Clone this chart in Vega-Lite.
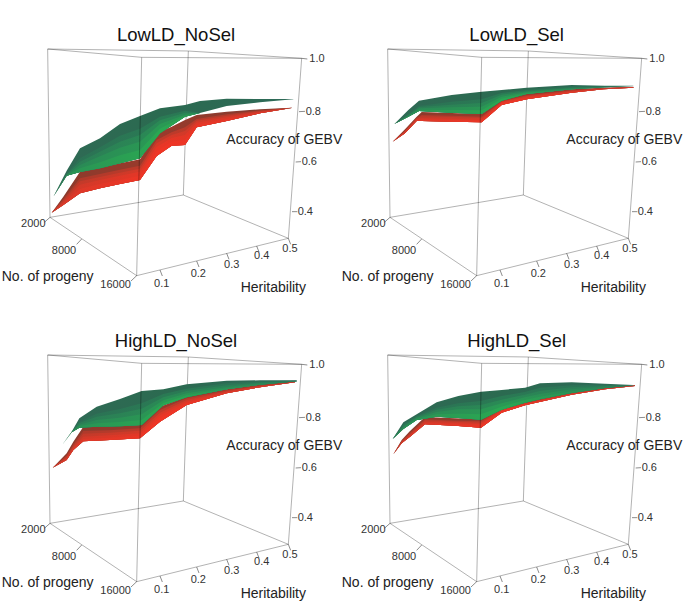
{"$schema":"https://vega.github.io/schema/vega-lite/v6.json","padding":0,"bounds":"flush","background":"white","config":{"view":{"stroke":null}},
"datasets":{
"surfaces":[
{"panel":"LowLD_NoSel","surface":"title","sx":528,"sy":105,"label":"LowLD_NoSel"},
{"panel":"LowLD_Sel","surface":"title","sx":530,"sy":105,"label":"LowLD_Sel"},
{"panel":"HighLD_NoSel","surface":"title","sx":528,"sy":105,"label":"HighLD_NoSel"},
{"panel":"HighLD_Sel","surface":"title","sx":530,"sy":105,"label":"HighLD_Sel"},
{"panel":"LowLD_NoSel","surface":"green","sx":160,"top":590,"m1":590,"mb":590,"m2":590,"mc":590,"bot":590},
{"panel":"LowLD_NoSel","surface":"green","sx":200,"top":512,"m1":522,"mb":523,"m2":525,"mc":526,"bot":527},
{"panel":"LowLD_NoSel","surface":"green","sx":240,"top":445,"m1":475,"mb":485,"m2":495,"mc":505,"bot":516},
{"panel":"LowLD_NoSel","surface":"green","sx":300,"top":415,"m1":442,"mb":455,"m2":469,"mc":487,"bot":505},
{"panel":"LowLD_NoSel","surface":"green","sx":360,"top":372,"m1":407,"mb":425,"m2":443,"mc":466,"bot":490},
{"panel":"LowLD_NoSel","surface":"green","sx":420,"top":348,"m1":386,"mb":405,"m2":425,"mc":450,"bot":475},
{"panel":"LowLD_NoSel","surface":"green","sx":480,"top":325,"m1":350,"mb":361,"m2":372,"mc":386,"bot":400},
{"panel":"LowLD_NoSel","surface":"green","sx":555,"top":315,"m1":332,"mb":338,"m2":344,"mc":347,"bot":350},
{"panel":"LowLD_NoSel","surface":"green","sx":600,"top":303,"m1":339,"mb":339,"m2":339,"mc":339,"bot":339},
{"panel":"LowLD_NoSel","surface":"green","sx":680,"top":296,"m1":318,"mb":318,"m2":318,"mc":318,"bot":318},
{"panel":"LowLD_NoSel","surface":"green","sx":780,"top":297,"m1":307,"mb":307,"m2":307,"mc":307,"bot":307},
{"panel":"LowLD_NoSel","surface":"green","sx":880,"top":297,"m1":298,"mb":298,"m2":298,"mc":298,"bot":298},
{"panel":"LowLD_NoSel","surface":"red","sx":155,"top":638,"m1":638,"mb":638,"m2":638,"mc":638,"bot":638},
{"panel":"LowLD_NoSel","surface":"red","sx":190,"top":590,"m1":597,"mb":601,"m2":605,"mc":610,"bot":615},
{"panel":"LowLD_NoSel","surface":"red","sx":240,"top":515,"m1":535,"mb":544,"m2":554,"mc":567,"bot":580},
{"panel":"LowLD_NoSel","surface":"red","sx":300,"top":503,"m1":522,"mb":531,"m2":540,"mc":552,"bot":565},
{"panel":"LowLD_NoSel","surface":"red","sx":360,"top":490,"m1":509,"mb":518,"m2":527,"mc":540,"bot":552},
{"panel":"LowLD_NoSel","surface":"red","sx":420,"top":478,"m1":497,"mb":506,"m2":515,"mc":527,"bot":540},
{"panel":"LowLD_NoSel","surface":"red","sx":470,"top":400,"m1":420,"mb":430,"m2":441,"mc":454,"bot":468},
{"panel":"LowLD_NoSel","surface":"red","sx":515,"top":380,"m1":397,"mb":405,"m2":414,"mc":425,"bot":437},
{"panel":"LowLD_NoSel","surface":"red","sx":555,"top":360,"m1":382,"mb":393,"m2":405,"mc":420,"bot":435},
{"panel":"LowLD_NoSel","surface":"red","sx":590,"top":345,"m1":357,"mb":362,"m2":368,"mc":375,"bot":382},
{"panel":"LowLD_NoSel","surface":"red","sx":680,"top":335,"m1":343,"mb":347,"m2":352,"mc":357,"bot":363},
{"panel":"LowLD_NoSel","surface":"red","sx":780,"top":328,"m1":331,"mb":333,"m2":335,"mc":337,"bot":340},
{"panel":"LowLD_NoSel","surface":"red","sx":875,"top":323,"m1":323,"mb":323,"m2":324,"mc":324,"bot":324},
{"panel":"LowLD_Sel","surface":"green","sx":163,"top":372,"m1":372,"mb":372,"m2":372,"mc":372,"bot":372},
{"panel":"LowLD_Sel","surface":"green","sx":205,"top":330,"m1":342,"mb":344,"m2":347,"mc":348,"bot":350},
{"panel":"LowLD_Sel","surface":"green","sx":237,"top":302,"m1":318,"mb":321,"m2":325,"mc":329,"bot":333},
{"panel":"LowLD_Sel","surface":"green","sx":335,"top":285,"m1":305,"mb":314,"m2":322,"mc":330,"bot":338},
{"panel":"LowLD_Sel","surface":"green","sx":425,"top":275,"m1":298,"mb":309,"m2":320,"mc":331,"bot":342},
{"panel":"LowLD_Sel","surface":"green","sx":485,"top":270,"m1":279,"mb":284,"m2":290,"mc":296,"bot":302},
{"panel":"LowLD_Sel","surface":"green","sx":560,"top":263,"m1":270,"mb":274,"m2":277,"mc":280,"bot":282},
{"panel":"LowLD_Sel","surface":"green","sx":695,"top":255,"m1":260,"mb":263,"m2":265,"mc":267,"bot":268},
{"panel":"LowLD_Sel","surface":"green","sx":795,"top":257,"m1":259,"mb":260,"m2":261,"mc":262,"bot":262},
{"panel":"LowLD_Sel","surface":"green","sx":880,"top":257,"m1":258,"mb":258,"m2":258,"mc":258,"bot":258},
{"panel":"LowLD_Sel","surface":"red","sx":158,"top":425,"m1":425,"mb":425,"m2":425,"mc":425,"bot":425},
{"panel":"LowLD_Sel","surface":"red","sx":195,"top":388,"m1":391,"mb":393,"m2":395,"mc":397,"bot":400},
{"panel":"LowLD_Sel","surface":"red","sx":230,"top":350,"m1":353,"mb":355,"m2":358,"mc":360,"bot":363},
{"panel":"LowLD_Sel","surface":"red","sx":245,"top":336,"m1":345,"mb":349,"m2":354,"mc":358,"bot":363},
{"panel":"LowLD_Sel","surface":"red","sx":335,"top":339,"m1":347,"mb":351,"m2":356,"mc":360,"bot":365},
{"panel":"LowLD_Sel","surface":"red","sx":425,"top":342,"m1":350,"mb":354,"m2":359,"mc":363,"bot":367},
{"panel":"LowLD_Sel","surface":"red","sx":485,"top":300,"m1":304,"mb":306,"m2":308,"mc":311,"bot":315},
{"panel":"LowLD_Sel","surface":"red","sx":560,"top":281,"m1":286,"mb":289,"m2":292,"mc":295,"bot":298},
{"panel":"LowLD_Sel","surface":"red","sx":695,"top":268,"m1":270,"mb":272,"m2":274,"mc":276,"bot":278},
{"panel":"LowLD_Sel","surface":"red","sx":790,"top":263,"m1":264,"mb":265,"m2":266,"mc":267,"bot":268},
{"panel":"LowLD_Sel","surface":"red","sx":880,"top":260,"m1":261,"mb":261,"m2":261,"mc":262,"bot":263},
{"panel":"HighLD_NoSel","surface":"green","sx":188,"top":415,"m1":415,"mb":415,"m2":415,"mc":415,"bot":415},
{"panel":"HighLD_NoSel","surface":"green","sx":215,"top":377,"m1":378,"mb":378,"m2":378,"mc":378,"bot":379},
{"panel":"HighLD_NoSel","surface":"green","sx":238,"top":337,"m1":347,"mb":351,"m2":356,"mc":360,"bot":365},
{"panel":"HighLD_NoSel","surface":"green","sx":290,"top":302,"m1":323,"mb":332,"m2":342,"mc":352,"bot":362},
{"panel":"HighLD_NoSel","surface":"green","sx":360,"top":279,"m1":309,"mb":322,"m2":335,"mc":348,"bot":361},
{"panel":"HighLD_NoSel","surface":"green","sx":425,"top":255,"m1":292,"mb":308,"m2":325,"mc":342,"bot":357},
{"panel":"HighLD_NoSel","surface":"green","sx":490,"top":250,"m1":264,"mb":274,"m2":283,"mc":291,"bot":298},
{"panel":"HighLD_NoSel","surface":"green","sx":560,"top":235,"m1":248,"mb":255,"m2":262,"mc":268,"bot":274},
{"panel":"HighLD_NoSel","surface":"green","sx":680,"top":224,"m1":232,"mb":238,"m2":243,"mc":247,"bot":250},
{"panel":"HighLD_NoSel","surface":"green","sx":780,"top":223,"m1":226,"mb":229,"m2":231,"mc":234,"bot":236},
{"panel":"HighLD_NoSel","surface":"green","sx":890,"top":223,"m1":224,"mb":224,"m2":225,"mc":225,"bot":226},
{"panel":"HighLD_NoSel","surface":"red","sx":158,"top":485,"m1":485,"mb":485,"m2":485,"mc":485,"bot":485},
{"panel":"HighLD_NoSel","surface":"red","sx":200,"top":442,"m1":448,"mb":451,"m2":455,"mc":458,"bot":462},
{"panel":"HighLD_NoSel","surface":"red","sx":220,"top":407,"m1":415,"mb":419,"m2":423,"mc":427,"bot":432},
{"panel":"HighLD_NoSel","surface":"red","sx":250,"top":362,"m1":375,"mb":383,"m2":392,"mc":399,"bot":406},
{"panel":"HighLD_NoSel","surface":"red","sx":330,"top":361,"m1":373,"mb":380,"m2":388,"mc":395,"bot":402},
{"panel":"HighLD_NoSel","surface":"red","sx":420,"top":357,"m1":367,"mb":374,"m2":382,"mc":389,"bot":397},
{"panel":"HighLD_NoSel","surface":"red","sx":480,"top":302,"m1":312,"mb":320,"m2":328,"mc":337,"bot":347},
{"panel":"HighLD_NoSel","surface":"red","sx":560,"top":272,"m1":277,"mb":282,"m2":287,"mc":292,"bot":297},
{"panel":"HighLD_NoSel","surface":"red","sx":680,"top":250,"m1":252,"mb":255,"m2":257,"mc":260,"bot":262},
{"panel":"HighLD_NoSel","surface":"red","sx":790,"top":235,"m1":236,"mb":238,"m2":239,"mc":241,"bot":242},
{"panel":"HighLD_NoSel","surface":"red","sx":885,"top":225,"m1":226,"mb":227,"m2":228,"mc":228,"bot":229},
{"panel":"HighLD_Sel","surface":"green","sx":158,"top":399,"m1":399,"mb":399,"m2":399,"mc":399,"bot":399},
{"panel":"HighLD_Sel","surface":"green","sx":190,"top":349,"m1":355,"mb":358,"m2":362,"mc":365,"bot":369},
{"panel":"HighLD_Sel","surface":"green","sx":230,"top":325,"m1":330,"mb":332,"m2":335,"mc":338,"bot":342},
{"panel":"HighLD_Sel","surface":"green","sx":290,"top":289,"m1":305,"mb":311,"m2":318,"mc":325,"bot":332},
{"panel":"HighLD_Sel","surface":"green","sx":355,"top":270,"m1":292,"mb":301,"m2":310,"mc":323,"bot":336},
{"panel":"HighLD_Sel","surface":"green","sx":423,"top":257,"m1":285,"mb":297,"m2":310,"mc":325,"bot":341},
{"panel":"HighLD_Sel","surface":"green","sx":485,"top":252,"m1":270,"mb":281,"m2":292,"mc":302,"bot":311},
{"panel":"HighLD_Sel","surface":"green","sx":555,"top":245,"m1":258,"mb":266,"m2":274,"mc":282,"bot":290},
{"panel":"HighLD_Sel","surface":"green","sx":600,"top":232,"m1":245,"mb":255,"m2":264,"mc":272,"bot":280},
{"panel":"HighLD_Sel","surface":"green","sx":695,"top":229,"m1":238,"mb":244,"m2":250,"mc":256,"bot":261},
{"panel":"HighLD_Sel","surface":"green","sx":795,"top":233,"m1":236,"mb":239,"m2":241,"mc":244,"bot":246},
{"panel":"HighLD_Sel","surface":"green","sx":880,"top":237,"m1":238,"mb":238,"m2":238,"mc":238,"bot":238},
{"panel":"HighLD_Sel","surface":"red","sx":160,"top":445,"m1":445,"mb":445,"m2":445,"mc":445,"bot":445},
{"panel":"HighLD_Sel","surface":"red","sx":185,"top":402,"m1":405,"mb":406,"m2":408,"mc":410,"bot":412},
{"panel":"HighLD_Sel","surface":"red","sx":210,"top":375,"m1":380,"mb":383,"m2":386,"mc":389,"bot":392},
{"panel":"HighLD_Sel","surface":"red","sx":255,"top":333,"m1":340,"mb":343,"m2":347,"mc":351,"bot":355},
{"panel":"HighLD_Sel","surface":"red","sx":345,"top":337,"m1":344,"mb":347,"m2":351,"mc":355,"bot":359},
{"panel":"HighLD_Sel","surface":"red","sx":423,"top":340,"m1":346,"mb":350,"m2":355,"mc":360,"bot":365},
{"panel":"HighLD_Sel","surface":"red","sx":485,"top":306,"m1":309,"mb":312,"m2":314,"mc":317,"bot":320},
{"panel":"HighLD_Sel","surface":"red","sx":555,"top":288,"m1":290,"mb":292,"m2":294,"mc":296,"bot":298},
{"panel":"HighLD_Sel","surface":"red","sx":695,"top":260,"m1":261,"mb":262,"m2":263,"mc":265,"bot":266},
{"panel":"HighLD_Sel","surface":"red","sx":795,"top":245,"m1":246,"mb":247,"m2":248,"mc":249,"bot":250},
{"panel":"HighLD_Sel","surface":"red","sx":885,"top":238,"m1":238,"mb":239,"m2":239,"mc":239,"bot":240}
],
"box":[
{"seg":"b1","part":"back","sx":565,"sy":153},{"seg":"b1","part":"back","sx":550,"sy":585},
{"seg":"b2","part":"back","sx":550,"sy":585},{"seg":"b2","part":"back","sx":150,"sy":652},
{"seg":"b3","part":"back","sx":550,"sy":585},{"seg":"b3","part":"back","sx":865,"sy":715},
{"seg":"b4","part":"back","sx":143,"sy":147},{"seg":"b4","part":"back","sx":565,"sy":153},
{"seg":"b5","part":"back","sx":565,"sy":153},{"seg":"b5","part":"back","sx":905,"sy":175},
{"seg":"f1","part":"front","sx":143,"sy":147},{"seg":"f1","part":"front","sx":150,"sy":652},
{"seg":"f2","part":"front","sx":425,"sy":172},{"seg":"f2","part":"front","sx":410,"sy":827},
{"seg":"f3","part":"front","sx":905,"sy":175},{"seg":"f3","part":"front","sx":865,"sy":715},
{"seg":"f4","part":"front","sx":150,"sy":652},{"seg":"f4","part":"front","sx":410,"sy":827},
{"seg":"f5","part":"front","sx":410,"sy":827},{"seg":"f5","part":"front","sx":865,"sy":715},
{"seg":"f6","part":"front","sx":143,"sy":147},{"seg":"f6","part":"front","sx":425,"sy":172},
{"seg":"f7","part":"front","sx":425,"sy":172},{"seg":"f7","part":"front","sx":905,"sy":175},
{"seg":"z10","part":"tick","sx":905,"sy":175},{"seg":"z10","part":"tick","sx":922,"sy":177},
{"seg":"z08","part":"tick","sx":897,"sy":335},{"seg":"z08","part":"tick","sx":915,"sy":334},
{"seg":"z06","part":"tick","sx":887,"sy":486},{"seg":"z06","part":"tick","sx":903,"sy":485},
{"seg":"z04","part":"tick","sx":876,"sy":635},{"seg":"z04","part":"tick","sx":892,"sy":635},
{"seg":"h1","part":"tick","sx":480,"sy":810},{"seg":"h1","part":"tick","sx":487,"sy":828},
{"seg":"h2","part":"tick","sx":590,"sy":783},{"seg":"h2","part":"tick","sx":597,"sy":801},
{"seg":"h3","part":"tick","sx":680,"sy":760},{"seg":"h3","part":"tick","sx":687,"sy":778},
{"seg":"h4","part":"tick","sx":770,"sy":738},{"seg":"h4","part":"tick","sx":777,"sy":756},
{"seg":"h5","part":"tick","sx":865,"sy":715},{"seg":"h5","part":"tick","sx":872,"sy":733},
{"seg":"p1","part":"tick","sx":150,"sy":652},{"seg":"p1","part":"tick","sx":133,"sy":667},
{"seg":"p2","part":"tick","sx":245,"sy":717},{"seg":"p2","part":"tick","sx":230,"sy":733},
{"seg":"p3","part":"tick","sx":410,"sy":827},{"seg":"p3","part":"tick","sx":393,"sy":843}
],
"labels":[
{"kind":"tick","label":"2000","sx":100,"sy":671},{"kind":"tick","label":"8000","sx":192,"sy":753},{"kind":"tick","label":"16000","sx":347,"sy":855},
{"kind":"tick","label":"0.1","sx":485,"sy":853},{"kind":"tick","label":"0.2","sx":595,"sy":822},{"kind":"tick","label":"0.3","sx":695,"sy":795},{"kind":"tick","label":"0.4","sx":785,"sy":768},{"kind":"tick","label":"0.5","sx":870,"sy":747},
{"kind":"tick","label":"1.0","sx":951,"sy":177},{"kind":"tick","label":"0.8","sx":940,"sy":335},{"kind":"tick","label":"0.6","sx":928,"sy":486},{"kind":"tick","label":"0.4","sx":916,"sy":635},
{"kind":"axis","label":"No. of progeny","sx":143,"sy":830},{"kind":"axis","label":"Heritability","sx":820,"sy":863},{"kind":"axis","label":"Accuracy of GEBV","sx":853,"sy":420}
]},
"data":{"name":"surfaces"},
"transform":[{"calculate":"indexof(datum.panel,'Low')==0?'a_LowLD':'b_HighLD'","as":"ld"},{"calculate":"indexof(datum.panel,'NoSel')>=0?'a_NoSel':'b_Sel'","as":"sel"}],
"facet":{"row":{"field":"ld","type":"nominal","header":null},"column":{"field":"sel","type":"nominal","header":null}},
"spacing":{"row":1,"column":0},
"spec":{"width":340,"height":305,
"encoding":{"x":{"field":"sx","type":"quantitative","axis":null,"scale":{"domain":[0,1020],"nice":false,"zero":false}},"y":{"field":"sy","type":"quantitative","axis":null,"scale":{"domain":[915,0],"nice":false,"zero":false}}},
"layer":[
{"data":{"name":"box"},"transform":[{"filter":"datum.part=='back'"}],"mark":{"type":"line","color":"#000","opacity":0.3,"strokeWidth":1},"encoding":{"detail":{"field":"seg"}}},
{"transform":[{"filter":"datum.surface=='red'"}],"mark":{"type":"area","color":{"x1":0,"y1":0,"x2":1,"y2":0,"gradient":"linear","stops":[{"offset":0,"color":"#8a3a2c"},{"offset":0.45,"color":"#9a3a2c"},{"offset":1,"color":"#7c3c30"}]}},"encoding":{"y":{"field":"top","type":"quantitative"},"y2":{"field":"bot"}}},
{"transform":[{"filter":"datum.surface=='red'"}],"mark":{"type":"area","color":{"x1":0,"y1":0,"x2":1,"y2":0,"gradient":"linear","stops":[{"offset":0,"color":"#a83a2b"},{"offset":0.45,"color":"#c03a2a"},{"offset":1,"color":"#a03c2d"}]}},"encoding":{"y":{"field":"m1","type":"quantitative"},"y2":{"field":"bot"}}},
{"transform":[{"filter":"datum.surface=='red'"}],"mark":{"type":"area","color":{"x1":0,"y1":0,"x2":1,"y2":0,"gradient":"linear","stops":[{"offset":0,"color":"#bc3a2a"},{"offset":0.45,"color":"#d83928"},{"offset":1,"color":"#b83b2c"}]}},"encoding":{"y":{"field":"mb","type":"quantitative"},"y2":{"field":"bot"}}},
{"transform":[{"filter":"datum.surface=='red'"}],"mark":{"type":"area","color":{"x1":0,"y1":0,"x2":1,"y2":0,"gradient":"linear","stops":[{"offset":0,"color":"#cc3a2a"},{"offset":0.45,"color":"#e83626"},{"offset":1,"color":"#cc3a2a"}]}},"encoding":{"y":{"field":"m2","type":"quantitative"},"y2":{"field":"bot"}}},
{"transform":[{"filter":"datum.surface=='red'"}],"mark":{"type":"area","color":{"x1":0,"y1":0,"x2":1,"y2":0,"gradient":"linear","stops":[{"offset":0,"color":"#d83a2a"},{"offset":0.45,"color":"#f03525"},{"offset":1,"color":"#dc382a"}]}},"encoding":{"y":{"field":"mc","type":"quantitative"},"y2":{"field":"bot"}}},
{"transform":[{"filter":"datum.surface=='green'"}],"mark":{"type":"area","color":{"x1":0,"y1":0,"x2":1,"y2":0,"gradient":"linear","stops":[{"offset":0,"color":"#2f6a55"},{"offset":0.45,"color":"#2b6a50"},{"offset":1,"color":"#2e6a58"}]}},"encoding":{"y":{"field":"top","type":"quantitative"},"y2":{"field":"bot"}}},
{"transform":[{"filter":"datum.surface=='green'"}],"mark":{"type":"area","color":{"x1":0,"y1":0,"x2":1,"y2":0,"gradient":"linear","stops":[{"offset":0,"color":"#2c7055"},{"offset":0.45,"color":"#2a7a54"},{"offset":1,"color":"#2d6f58"}]}},"encoding":{"y":{"field":"m1","type":"quantitative"},"y2":{"field":"bot"}}},
{"transform":[{"filter":"datum.surface=='green'"}],"mark":{"type":"area","color":{"x1":0,"y1":0,"x2":1,"y2":0,"gradient":"linear","stops":[{"offset":0,"color":"#2c7a56"},{"offset":0.45,"color":"#2a8a55"},{"offset":1,"color":"#2c7558"}]}},"encoding":{"y":{"field":"mb","type":"quantitative"},"y2":{"field":"bot"}}},
{"transform":[{"filter":"datum.surface=='green'"}],"mark":{"type":"area","color":{"x1":0,"y1":0,"x2":1,"y2":0,"gradient":"linear","stops":[{"offset":0,"color":"#2a8556"},{"offset":0.45,"color":"#2a9a54"},{"offset":1,"color":"#2c7a58"}]}},"encoding":{"y":{"field":"m2","type":"quantitative"},"y2":{"field":"bot"}}},
{"transform":[{"filter":"datum.surface=='green'"}],"mark":{"type":"area","color":{"x1":0,"y1":0,"x2":1,"y2":0,"gradient":"linear","stops":[{"offset":0,"color":"#2a9055"},{"offset":0.45,"color":"#2aa852"},{"offset":1,"color":"#2c8058"}]}},"encoding":{"y":{"field":"mc","type":"quantitative"},"y2":{"field":"bot"}}},
{"data":{"name":"box"},"transform":[{"filter":"datum.part=='front'"}],"mark":{"type":"line","color":"#000","opacity":0.3,"strokeWidth":1},"encoding":{"detail":{"field":"seg"}}},
{"data":{"name":"box"},"transform":[{"filter":"datum.part=='tick'"}],"mark":{"type":"line","color":"#000","opacity":0.45,"strokeWidth":1},"encoding":{"detail":{"field":"seg"}}},
{"data":{"name":"labels"},"transform":[{"filter":"datum.kind=='tick'"}],"mark":{"type":"text","font":"Liberation Sans","fontSize":11,"color":"#333","align":"center","baseline":"middle"},"encoding":{"text":{"field":"label"}}},
{"data":{"name":"labels"},"transform":[{"filter":"datum.kind=='axis'"}],"mark":{"type":"text","font":"Liberation Sans","fontSize":14,"color":"#222","align":"center","baseline":"middle"},"encoding":{"text":{"field":"label"}}},
{"transform":[{"filter":"datum.surface=='title'"}],"mark":{"type":"text","font":"Liberation Sans","fontSize":18.5,"color":"#111","align":"center","baseline":"middle"},"encoding":{"text":{"field":"label"}}}
]}}
